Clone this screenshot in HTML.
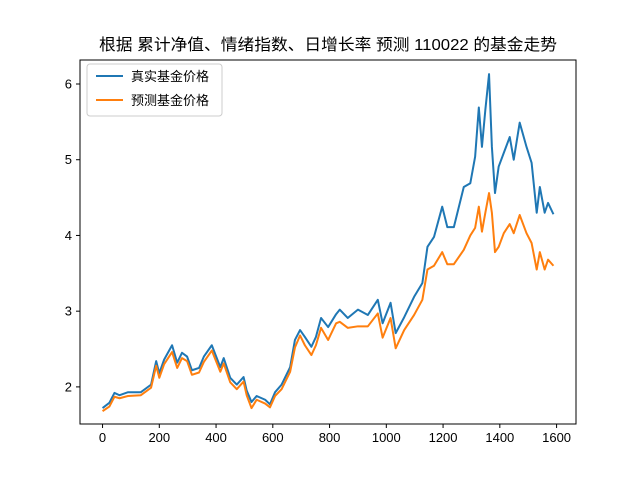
<!DOCTYPE html>
<html><head><meta charset="utf-8"><style>
html,body{margin:0;padding:0;background:#fff;width:640px;height:480px;overflow:hidden}
svg text{font-family:"Liberation Sans","Noto Sans CJK SC",sans-serif;fill:#000}
</style></head><body>
<svg id="chart" width="640" height="480" viewBox="0 0 640 480" xmlns="http://www.w3.org/2000/svg">
<rect x="0" y="0" width="640" height="480" fill="#fff"/>
<text x="328" y="50" text-anchor="middle" font-size="16" textLength="458" lengthAdjust="spacingAndGlyphs">根据 累计净值、情绪指数、日增长率 预测 110022 的基金走势</text>
<g id="plot"></g>
<g id="axes"></g>
<g>
<rect x="87" y="64" width="135" height="52" rx="3" fill="#fff" fill-opacity="0.8" stroke="#ccc"/>
<line x1="96" y1="76" x2="123" y2="76" stroke="#1f77b4" stroke-width="2"/>
<text x="131" y="81" font-size="13">真实基金价格</text>
<line x1="96" y1="100" x2="123" y2="100" stroke="#ff7f0e" stroke-width="2"/>
<text x="131" y="105" font-size="13">预测基金价格</text>
</g>
</svg>
<script>
const idx=[0,24,42,60,90,135,171,189,200,217,245,263,280,298,315,340,357,385,415,427,450,473,497,508,525,543,573,590,608,631,661,678,696,713,736,752,770,795,823,836,864,900,935,970,987,1015,1033,1063,1098,1127,1145,1168,1197,1215,1238,1273,1296,1313,1326,1337,1349,1362,1372,1383,1396,1414,1435,1449,1470,1494,1512,1530,1541,1558,1570,1589];
const realPrice=[1.72,1.79,1.92,1.89,1.93,1.93,2.03,2.34,2.18,2.36,2.55,2.32,2.45,2.40,2.22,2.25,2.40,2.55,2.26,2.38,2.12,2.03,2.13,1.95,1.80,1.88,1.83,1.77,1.93,2.03,2.26,2.62,2.75,2.66,2.53,2.66,2.91,2.79,2.96,3.02,2.91,3.02,2.95,3.15,2.84,3.11,2.71,2.92,3.19,3.37,3.85,3.98,4.38,4.11,4.11,4.64,4.69,5.04,5.69,5.17,5.66,6.13,5.17,4.56,4.91,5.09,5.30,5.00,5.49,5.17,4.96,4.30,4.64,4.30,4.43,4.28];
const predPrice=[1.68,1.74,1.87,1.85,1.88,1.89,1.99,2.28,2.12,2.30,2.46,2.25,2.38,2.34,2.16,2.19,2.33,2.48,2.20,2.31,2.06,1.97,2.07,1.89,1.72,1.83,1.78,1.73,1.88,1.97,2.20,2.52,2.68,2.55,2.42,2.55,2.78,2.62,2.84,2.86,2.78,2.80,2.80,2.97,2.65,2.91,2.51,2.75,2.95,3.15,3.55,3.60,3.78,3.62,3.62,3.81,4.00,4.10,4.38,4.05,4.30,4.56,4.30,3.78,3.85,4.03,4.15,4.03,4.27,4.03,3.90,3.55,3.78,3.55,3.68,3.60];
const xTicks=[0,200,400,600,800,1000,1200,1400,1600];
const yTicks=[2,3,4,5,6];
const L=80,R=576,T=60,B=424;
const xMin=-79.45,xMax=1668.45,yMin=1.51,yMax=6.317;
function sx(v){return L+(v-xMin)/(xMax-xMin)*(R-L);}
function sy(v){return B-(v-yMin)/(yMax-yMin)*(B-T);}
const NS="http://www.w3.org/2000/svg";
const plot=document.getElementById('plot'),axes=document.getElementById('axes');
function mk(tag,attrs,parent){const e=document.createElementNS(NS,tag);for(const k in attrs)e.setAttribute(k,attrs[k]);parent.appendChild(e);return e;}
function series(vals,color,name){
 const d=idx.map((x,i)=>(i?'L':'M')+sx(x).toFixed(2)+','+sy(vals[i]).toFixed(2)).join('');
 const p=mk('path',{d:d,fill:'none',stroke:color,'stroke-width':2,'stroke-linejoin':'round'},plot);
 
 
}
series(realPrice,'#1f77b4','real-price-line');
series(predPrice,'#ff7f0e','predicted-price-line');
const frame=mk('rect',{x:L,y:T,width:R-L,height:B-T,fill:'none',stroke:'#000','stroke-width':1},axes);


xTicks.forEach(t=>{
 const x=sx(t);
 const tk=mk('line',{x1:x,y1:B,x2:x,y2:B+4,stroke:'#000'},axes);
 
 
 const lb=mk('text',{x:x,y:B+18,'text-anchor':'middle','font-size':13},axes);
 lb.textContent=t;
 
 
});
yTicks.forEach(t=>{
 const y=sy(t);
 const tk=mk('line',{x1:L-4,y1:y,x2:L,y2:y,stroke:'#000'},axes);
 
 
 const lb=mk('text',{x:L-8,y:y+4.5,'text-anchor':'end','font-size':13},axes);
 lb.textContent=t;
 
 
});
</script>
</body></html>
